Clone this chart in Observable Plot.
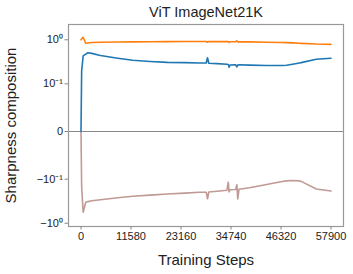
<!DOCTYPE html>
<html>
<head>
<meta charset="utf-8">
<script src="https://cdn.jsdelivr.net/npm/d3@7"></script>
<script src="https://cdn.jsdelivr.net/npm/@observablehq/plot@0.6"></script>
<style>
  html, body { margin: 0; padding: 0; background: #fff; }
  #chart svg { display: block; }
</style>
</head>
<body>
<div id="chart"></div>
<script>
// ---- data ----
const title = "ViT ImageNet21K";
const xLabel = "Training Steps";
const yLabel = "Sharpness composition";

const steps = [0, 150, 500, 1100, 1600, 2500, 4500, 8500, 12000, 16000, 20000, 24000, 27500,
  29000, 29300, 29600, 31500, 33800, 34100, 34300, 34500, 35800, 36100, 36300, 36600,
  39000, 43000, 46600, 47600, 49000, 50600, 51000, 54500, 57900];

const orangeSeries = [1.0, 1.05, 1.14, 0.84, 0.85, 0.87, 0.885, 0.895, 0.9, 0.905, 0.91, 0.915, 0.915,
  0.915, 0.88, 0.915, 0.91, 0.91, 0.91, 0.87, 0.905, 0.905, 0.95, 0.9, 0.905,
  0.9, 0.885, 0.87, 0.865, 0.855, 0.84, 0.835, 0.805, 0.79];

const blueSeries = [0, 0.2, 0.44, 0.48, 0.515, 0.5, 0.45, 0.39, 0.35, 0.33, 0.315, 0.31, 0.305,
  0.305, 0.40, 0.30, 0.295, 0.285, 0.282, 0.245, 0.275, 0.278, 0.248, 0.275, 0.278,
  0.272, 0.267, 0.267, 0.27, 0.285, 0.305, 0.31, 0.37, 0.39];

const brownSeries = [0, -0.15, -0.57, -0.34, -0.33, -0.315, -0.3, -0.27, -0.25, -0.235, -0.222, -0.212, -0.203,
  -0.202, -0.285, -0.2, -0.192, -0.182, -0.118, -0.2, -0.178, -0.175, -0.136, -0.286, -0.172,
  -0.16, -0.134, -0.114, -0.11, -0.108, -0.11, -0.113, -0.17, -0.19];

const xTicks = [0, 11580, 23160, 34740, 46320, 57900];
const yTicks = [-1, -0.1, 0, 0.1, 1];
const yTickLabels = ["\u221210\u2070", "\u221210\u207B\u00B9", "0", "10\u207B\u00B9", "10\u2070"];

const colors = { orange: "#ff7f0e", blue: "#1f77b4", brown: "#c09a94" };

// ---- build rows ----
const rows = (vals, key) => steps.map((s, i) => ({ step: s, value: vals[i], key }));
const orangeRows = rows(orangeSeries, "orange");
const blueRows = rows(blueSeries, "blue");
const brownRows = rows(brownSeries, "brown");

const tickLabelOf = new Map(yTicks.map((t, i) => [t, yTickLabels[i]]));

const chart = Plot.plot({
  width: 353,
  height: 274,
  marginLeft: 68,
  marginRight: 10,
  marginTop: 24,
  marginBottom: 48,
  style: { fontFamily: "Liberation Sans, Arial, sans-serif", background: "#fff", color: "#222" },
  x: { domain: [-2895, 60795] },
  y: { type: "symlog", constant: 0.01, domain: [-1.18, 2.17] },
  marks: [
    Plot.ruleY([0], { stroke: "#8a8a8a", strokeWidth: 1.2 }),
    Plot.line(brownRows, { x: "step", y: "value", stroke: colors.brown, strokeWidth: 1.6 }),
    Plot.line(blueRows, { x: "step", y: "value", stroke: colors.blue, strokeWidth: 1.6 }),
    Plot.line(orangeRows, { x: "step", y: "value", stroke: colors.orange, strokeWidth: 1.6 }),
    Plot.frame({ stroke: "#999", strokeWidth: 1.2 }),
    Plot.axisX({ ticks: xTicks, tickFormat: d => String(d), tickSize: 3.5, tickPadding: 2.5,
      stroke: "#888", fill: "#222", fontSize: 11, label: null }),
    Plot.axisY({ ticks: yTicks, tickFormat: d => tickLabelOf.get(d), tickSize: 3.5, tickPadding: 2,
      stroke: "#888", fill: "#222", fontSize: 11, label: null }),
    Plot.text([title], { frameAnchor: "top", lineAnchor: "middle", dy: -12, fontSize: 14.5, fill: "#222" }),
    Plot.text([xLabel], { frameAnchor: "bottom", lineAnchor: "middle", dy: 33.5, fontSize: 15, fill: "#222" }),
    Plot.text([yLabel], { frameAnchor: "left", textAnchor: "middle", lineAnchor: "middle", dx: -57, rotate: -90, fontSize: 15, fill: "#222" })
  ]
});
document.getElementById("chart").appendChild(chart);
</script>
</body>
</html>
